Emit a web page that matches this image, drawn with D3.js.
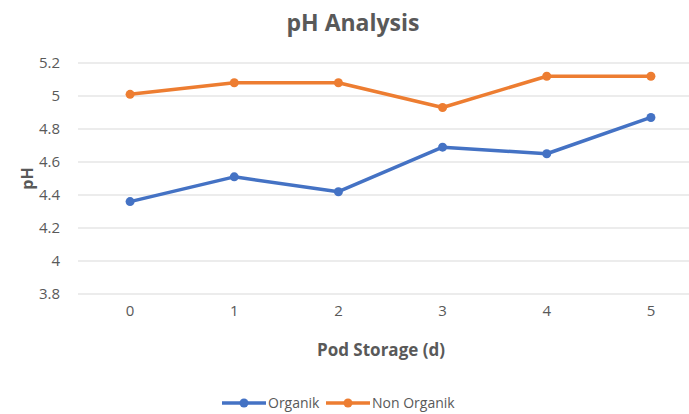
<!DOCTYPE html>
<html>
<head>
<meta charset="utf-8">
<script src="https://cdn.jsdelivr.net/npm/d3@7"></script>
<style>
  html, body { margin: 0; padding: 0; background: #fff; }
  svg { display: block; font-family: "Open Sans", sans-serif; }
</style>
</head>
<body>
<div id="chart"></div>
<script>
// Chart data
const days = ["0", "1", "2", "3", "4", "5"];
const organik = [4.36, 4.51, 4.42, 4.69, 4.65, 4.87];
const nonOrganik = [5.01, 5.08, 5.08, 4.93, 5.12, 5.12];
const yTicks = [3.8, 4, 4.2, 4.4, 4.6, 4.8, 5, 5.2];
const seriesNames = ["Organik", "Non Organik"];
const seriesColors = ["#4472C4", "#ED7D31"];

const width = 689;
const height = 414;
const margin = {top: 63, right: -14, bottom: 120, left: 78};

const svg = d3.select("#chart")
    .append("svg")
    .attr("width", width)
    .attr("height", height);

const xScale = d3.scaleBand()
    .domain(days)
    .range([margin.left, width - margin.right]);

const yScale = d3.scaleLinear()
    .domain([3.8, 5.2])
    .range([height - margin.bottom, margin.top]);

// Title
svg.append("text")
    .attr("x", 353)
    .attr("y", 31)
    .attr("text-anchor", "middle")
    .style("font-size", "23px")
    .style("font-weight", "bold")
    .style("fill", "#595959")
    .text("pH Analysis");

// Gridlines
svg.append("g")
    .selectAll("line")
    .data(yTicks)
    .join("line")
    .attr("x1", margin.left)
    .attr("x2", width - margin.right)
    .attr("y1", d => yScale(d))
    .attr("y2", d => yScale(d))
    .attr("stroke", "#d9d9d9")
    .attr("stroke-width", 1);

// Y axis
const yAxis = svg.append("g")
    .attr("transform", `translate(${margin.left - 15},0)`)
    .call(d3.axisLeft(yScale).tickValues(yTicks).tickSize(0).tickFormat(d => d3.format("")(+d.toFixed(1))));
yAxis.select(".domain").remove();
yAxis.selectAll("text")
    .style("font-size", "15px")
    .style("font-family", "'Open Sans', sans-serif")
    .style("fill", "#595959");

// X axis
const xAxis = svg.append("g")
    .attr("transform", `translate(0,${height - margin.bottom + 8})`)
    .call(d3.axisBottom(xScale).tickSize(0));
xAxis.select(".domain").remove();
xAxis.selectAll("text")
    .style("font-size", "15px")
    .style("font-family", "'Open Sans', sans-serif")
    .style("fill", "#595959");

// Axis titles
svg.append("text")
    .attr("transform", "rotate(-90)")
    .attr("x", -(margin.top + height - margin.bottom) / 2)
    .attr("y", 33)
    .attr("text-anchor", "middle")
    .style("font-size", "16px")
    .style("font-weight", "bold")
    .style("fill", "#595959")
    .text("pH");

svg.append("text")
    .attr("x", 381)
    .attr("y", 356)
    .attr("text-anchor", "middle")
    .style("font-size", "17px")
    .style("font-weight", "bold")
    .style("fill", "#595959")
    .text("Pod Storage (d)");

// Lines and dots
const line = d3.line()
    .x((d, i) => xScale(days[i]) + xScale.bandwidth() / 2)
    .y(d => yScale(d));

[organik, nonOrganik].forEach((values, k) => {
    svg.append("path")
        .datum(values)
        .attr("fill", "none")
        .attr("stroke", seriesColors[k])
        .attr("stroke-width", 3.5)
        .attr("stroke-linejoin", "round")
        .attr("d", line);

    svg.append("g")
        .selectAll("circle")
        .data(values)
        .join("circle")
        .attr("cx", (d, i) => xScale(days[i]) + xScale.bandwidth() / 2)
        .attr("cy", d => yScale(d))
        .attr("r", 4.5)
        .attr("fill", seriesColors[k]);
});

// Legend
const legendX = [222, 326];
const legend = svg.append("g");
seriesNames.forEach((name, k) => {
    const g = legend.append("g").attr("transform", `translate(${legendX[k]},403)`);
    g.append("line")
        .attr("x1", 0).attr("x2", 44)
        .attr("stroke", seriesColors[k])
        .attr("stroke-width", 3.5);
    g.append("circle")
        .attr("cx", 22).attr("r", 4.5)
        .attr("fill", seriesColors[k]);
    g.append("text")
        .attr("x", 46)
        .attr("y", 5)
        .style("font-size", "14px")
        .style("fill", "#595959")
        .text(name);
});
</script>
</body>
</html>
